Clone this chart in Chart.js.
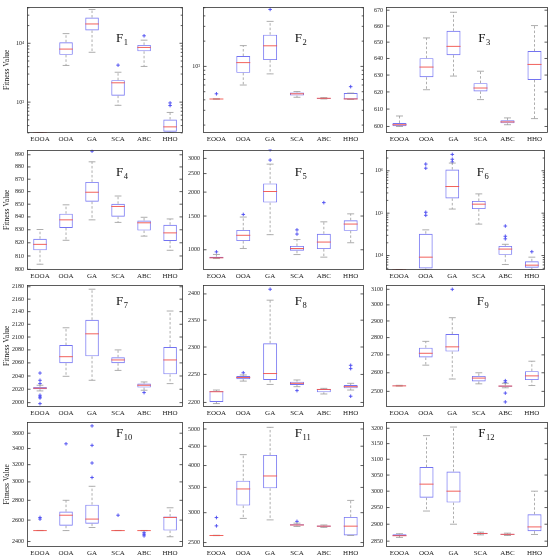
<!DOCTYPE html>
<html>
<head>
<meta charset="utf-8">
<script src="https://cdn.jsdelivr.net/npm/chart.js@4.4.1/dist/chart.umd.min.js"></script>
<style>
  body { margin: 0; background: #fff; }
  #wrap { position: relative; width: 550px; height: 558px; overflow: hidden; }
  #wrap canvas { position: absolute; }
</style>
</head>
<body>
<div id="wrap"></div>
<script>
const categories = ["EOOA", "OOA", "GA", "SCA", "ABC", "HHO"];

// each row: [min whisker, q1, median, q3, max whisker]
const f1Box = [[300, 300, 300, 300, 300], [4200, 6360, 7970, 10400, 14600], [7030, 16500, 21300, 27400, 37500],
  [883, 1290, 2130, 2360, 3220], [4040, 7300, 8500, 9380, 11300], [300, 314, 380, 507, 668]];
const f1Out = [[], [], [], [4250], [13400], [875, 970]];
const f1Range = [299, 42000];
const f1Ticks = [1000, 10000];

const f2Box = [[407, 408, 409, 410, 412], [600, 838, 1110, 1330, 1770], [815, 1190, 1760, 2390, 3440],
  [429, 449, 472, 490, 502], [410, 413, 417, 421, 425], [404, 404, 410, 481, 481]];
const f2Out = [[472], [], [4770], [], [], [574]];
const f2Range = [161, 5160];
const f2Ticks = [1000];

const f3Box = [[600, 600.2, 601, 602, 606], [621.3, 628.7, 634.8, 640.2, 652.6], [629.4, 642, 647.4, 657, 668.7],
  [615.5, 620.3, 622.3, 625.2, 632.3], [601, 601.8, 602.6, 603.5, 604.9], [604.5, 627.1, 636.4, 644.5, 660.3]];
const f3Out = [[], [], [], [], [], []];
const f3Range = [596.3, 672.3];
const f3Ticks = [600, 610, 620, 630, 640, 650, 660, 670];

const f4Box = [[803.8, 814.3, 818.8, 823.1, 830.2], [821.9, 831.4, 837.7, 842.5, 849.5], [837.7, 852, 859.5, 867.8, 884.2],
  [835.7, 840.2, 848.2, 850.3, 856.5], [825.1, 829.4, 835.4, 837.2, 839.7], [814.3, 821.4, 827.6, 833.9, 838.4]];
const f4Out = [[], [], [893], [], [], []];
const f4Range = [799.5, 894.3];
const f4Ticks = [800, 810, 820, 830, 840, 850, 860, 870, 880, 890];

const f5Box = [[900, 902, 908, 920, 945], [1015, 1110, 1190, 1270, 1482], [1199, 1763, 2015, 2220, 2800],
  [944, 988, 1015, 1047, 1131], [915, 1008, 1097, 1212, 1399], [1088, 1255, 1362, 1426, 1540]];
const f5Out = [[975], [1529], [2940, 3330], [1208, 1270], [1763], []];
const f5Range = [784, 3335];
const f5Ticks = [1000, 1500, 2000, 2500, 3000];

const f6Box = [[4580, 4580, 4580, 4580, 4580], [4570, 4970, 9160, 32700, 40400], [125000, 223000, 425000, 1070000, 1520000],
  [55200, 125000, 163000, 194000, 285000], [6140, 10400, 14200, 16900, 18400], [4570, 5150, 5930, 7310, 9160]];
const f6Out = [[], [89000, 105000, 1150000, 1440000], [1620000, 1870000, 2430000], [], [24800, 28500, 49700], [12300]];
const f6Range = [4560, 3160000];
const f6Ticks = [10000, 100000, 1000000];

const f7Box = [[2017.5, 2020, 2021.5, 2023.5, 2026], [2039.5, 2059.5, 2069.5, 2087.5, 2114.5], [2033.5, 2070, 2105, 2127, 2176],
  [2048.5, 2059.5, 2064.5, 2068.5, 2080], [2018.5, 2022.5, 2026, 2028.5, 2031], [2028.5, 2042.5, 2064.5, 2084.5, 2141]];
const f7Out = [[1998.5, 2007, 2008.5, 2011, 2028.5, 2033.5, 2044.5], [], [], [], [2015], []];
const f7Range = [1993.5, 2183.5];
const f7Ticks = [2000, 2020, 2040, 2060, 2080, 2100, 2120, 2140, 2160, 2180];

const f8Box = [[2198, 2201, 2219, 2220, 2222], [2238, 2241.5, 2244.5, 2247, 2249], [2232, 2240, 2251.6, 2306.8, 2388],
  [2228, 2231, 2234, 2237, 2240], [2215, 2218, 2223, 2224, 2225], [2222, 2225, 2228, 2231, 2234]];
const f8Out = [[], [2253], [2409], [2221], [], [2211, 2260.5, 2266.5]];
const f8Range = [2192, 2418];
const f8Ticks = [2200, 2250, 2300, 2350, 2400];

const f9Box = [[2528, 2528, 2529, 2531, 2532], [2642, 2685, 2709, 2741, 2778], [2566, 2719, 2746, 2821, 2920],
  [2540, 2553, 2571, 2583, 2600], [2519, 2524, 2528, 2531, 2543], [2531, 2560, 2583, 2609, 2664]];
const f9Out = [[], [], [3100], [], [2445, 2491, 2548, 2557], []];
const f9Range = [2419, 3131];
const f9Ticks = [2500, 2600, 2700, 2800, 2900, 3000, 3100];

const f10Box = [[2500, 2500, 2500, 2501, 2501], [2500, 2546, 2648, 2684, 2800], [2529, 2566, 2610, 2755, 2951],
  [2500, 2500, 2500, 2501, 2501], [2499, 2500, 2500, 2501, 2501], [2443, 2500, 2626, 2636, 2723]];
const f10Out = [[2610, 2626], [3460], [3050, 3220, 3440, 3700], [2648], [2451, 2466, 2480], []];
const f10Range = [2351, 3760];
const f10Ticks = [2400, 2600, 2800, 3000, 3200, 3400, 3600];

const f11Box = [[2608, 2609, 2610, 2612, 2613], [2897, 3133, 3467, 3647, 4275], [2871, 3480, 3753, 4267, 5050],
  [2758, 2773, 2783, 2794, 2814], [2742, 2753, 2763, 2773, 2783], [2610, 2611, 2763, 2923, 3233]];
const f11Out = [[2768, 2912], [], [], [2845], [], []];
const f11Range = [2433, 5230];
const f11Ticks = [2500, 3000, 3500, 4000, 4500, 5000];

const f12Box = [[2861, 2865, 2866, 2870, 2872], [2939.5, 2980, 3021.7, 3075, 3176], [2900, 2965, 3000, 3061, 3204],
  [2868.6, 2870.6, 2872.5, 2874.5, 2876.5], [2866.7, 2868.6, 2870, 2871.6, 2873.5], [2869.6, 2879.4, 2892, 2929.8, 3000]];
const f12Out = [[], [], [], [], [], []];
const f12Range = [2833, 3222];
const f12Ticks = [2850, 2900, 2950, 3000, 3050, 3100, 3150, 3200];

const panels = [
  { fn: 1, box: f1Box, out: f1Out, range: f1Range, ticks: f1Ticks, pow: true },
  { fn: 2, box: f2Box, out: f2Out, range: f2Range, ticks: f2Ticks, pow: true },
  { fn: 3, box: f3Box, out: f3Out, range: f3Range, ticks: f3Ticks },
  { fn: 4, box: f4Box, out: f4Out, range: f4Range, ticks: f4Ticks },
  { fn: 5, box: f5Box, out: f5Out, range: f5Range, ticks: f5Ticks },
  { fn: 6, box: f6Box, out: f6Out, range: f6Range, ticks: f6Ticks, pow: true },
  { fn: 7, box: f7Box, out: f7Out, range: f7Range, ticks: f7Ticks },
  { fn: 8, box: f8Box, out: f8Out, range: f8Range, ticks: f8Ticks },
  { fn: 9, box: f9Box, out: f9Out, range: f9Range, ticks: f9Ticks },
  { fn: 10, box: f10Box, out: f10Out, range: f10Range, ticks: f10Ticks },
  { fn: 11, box: f11Box, out: f11Out, range: f11Range, ticks: f11Ticks },
  { fn: 12, box: f12Box, out: f12Out, range: f12Range, ticks: f12Ticks },
];

// layout of the 4x3 grid (plot areas)
const colL = [27, 203, 386];
const colR = [186, 367, 548];
const rowT = [2, 145, 280, 417];
const rowB = [133, 270, 407, 547];
const titleDy = [32, 23, 17, 12];

const SERIF = "'Liberation Serif', 'DejaVu Serif', serif";
const SUP = { 0: "⁰", 1: "¹", 2: "²", 3: "³", 4: "⁴", 5: "⁵", 6: "⁶", 7: "⁷", 8: "⁸", 9: "⁹" };

function buildTicks(p) {
  if (!p.pow) return p.ticks.map((v) => ({ value: v, major: true }));
  let list = [];
  let k0 = Math.floor(Math.log10(p.range[0]));
  let k1 = Math.ceil(Math.log10(p.range[1]));
  for (let k = k0; k <= k1; k++) {
    for (let m = 1; m <= 9; m++) {
      let v = m * Math.pow(10, k);
      if (v >= p.range[0] && v <= p.range[1]) list.push({ value: v, major: m === 1 });
    }
  }
  return list;
}

function tickLabel(p, value) {
  if (!p.pow) return String(value);
  let e = Math.log10(value);
  if (Math.abs(e - Math.round(e)) > 1e-9) return "";
  return "10" + String(Math.round(e)).split("").map((d) => SUP[d]).join("");
}

// whiskers, medians, frame, inward ticks and panel title
const boxPlugin = {
  id: "boxplot",
  afterDatasetsDraw(chart, args, opts) {
    const { ctx, chartArea: a, scales } = chart;
    const x = scales.x, y = scales.y;
    const meta = chart.getDatasetMeta(0);
    ctx.save();
    ctx.beginPath();
    ctx.rect(a.left, a.top, a.right - a.left, a.bottom - a.top);
    ctx.clip();
    opts.box.forEach((s, i) => {
      const cx = x.getPixelForValue(i);
      const hw = meta.data[i].width / 2;
      const [mn, q1, md, q3, mx] = s.map((v) => y.getPixelForValue(v));
      ctx.strokeStyle = "#999";
      ctx.lineWidth = 0.8;
      ctx.setLineDash([2.5, 2]);
      ctx.beginPath();
      ctx.moveTo(cx, q3); ctx.lineTo(cx, mx);
      ctx.moveTo(cx, q1); ctx.lineTo(cx, mn);
      ctx.stroke();
      ctx.setLineDash([]);
      ctx.beginPath();
      ctx.moveTo(cx - hw / 2, mx); ctx.lineTo(cx + hw / 2, mx);
      ctx.moveTo(cx - hw / 2, mn); ctx.lineTo(cx + hw / 2, mn);
      ctx.stroke();
      ctx.strokeStyle = "#f0504a";
      ctx.lineWidth = 0.9;
      ctx.beginPath();
      ctx.moveTo(cx - hw, md); ctx.lineTo(cx + hw, md);
      ctx.stroke();
    });
    ctx.restore();
  },
  afterDraw(chart, args, opts) {
    const { ctx, chartArea: a, scales } = chart;
    const y = scales.y;
    const l = Math.round(a.left) + 0.5, t = Math.round(a.top) + 0.5;
    const r = Math.round(a.right) - 0.5, b = Math.round(a.bottom) - 0.5;
    ctx.save();
    ctx.strokeStyle = "#333";
    ctx.lineWidth = 0.8;
    ctx.strokeRect(l, t, r - l, b - t);
    ctx.beginPath();
    y.ticks.forEach((tk) => {
      const py = y.getPixelForValue(tk.value);
      const len = tk.major ? 3 : 1.8;
      ctx.moveTo(l, py); ctx.lineTo(l + len, py);
      ctx.moveTo(r, py); ctx.lineTo(r - len, py);
    });
    ctx.stroke();
    // title F with subscript
    const tx = a.left + 0.57 * (a.right - a.left);
    const ty = a.top + opts.titleDy;
    ctx.fillStyle = "#111";
    ctx.textBaseline = "middle";
    ctx.textAlign = "left";
    ctx.font = "13px " + SERIF;
    ctx.fillText("F", tx, ty);
    const w = ctx.measureText("F").width;
    ctx.font = "8.5px " + SERIF;
    ctx.fillText(String(opts.fn), tx + w + 0.5, ty + 4);
    ctx.restore();
  },
};

const wrap = document.getElementById("wrap");

panels.forEach((p, idx) => {
  const row = Math.floor(idx / 3), col = idx % 3;
  const axisW = col === 0 ? 27 : 20;
  const left = colL[col] - axisW;
  const top = rowT[row] - 2;
  const width = colR[col] - left + 2;
  const height = rowB[row] - top + 10;

  const canvas = document.createElement("canvas");
  canvas.width = width;
  canvas.height = height;
  canvas.style.left = left + "px";
  canvas.style.top = top + "px";
  wrap.appendChild(canvas);

  const outliers = [];
  p.out.forEach((list, i) => list.forEach((v) => outliers.push({ x: categories[i], y: v })));

  new Chart(canvas, {
    type: "bar",
    data: {
      labels: categories,
      datasets: [
        {
          data: p.box.map((s) => [s[1], s[3]]),
          backgroundColor: "rgba(0,0,0,0)",
          borderColor: "#7373f2",
          borderWidth: 0.9,
          borderSkipped: false,
          barPercentage: 0.52,
          categoryPercentage: 1,
        },
        {
          type: "line",
          data: outliers,
          showLine: false,
          pointStyle: "cross",
          pointRadius: 1.8,
          pointBorderWidth: 0.9,
          borderColor: "#4a4af0",
          backgroundColor: "#4a4af0",
        },
      ],
    },
    options: {
      responsive: false,
      animation: false,
      layout: { padding: { top: 2, right: 2, left: 0, bottom: 0 } },
      plugins: {
        legend: { display: false },
        tooltip: { enabled: false },
        boxplot: { box: p.box, fn: p.fn, titleDy: titleDy[row] },
      },
      scales: {
        x: {
          grid: { display: false, drawTicks: false },
          border: { display: false },
          ticks: { font: { family: SERIF, size: 7 }, color: "#222", padding: 1.5, maxRotation: 0, autoSkip: false },
          afterFit: (scale) => { scale.height = 10; },
        },
        y: {
          type: "logarithmic",
          min: p.range[0],
          max: p.range[1],
          grid: { display: false, drawTicks: false },
          border: { display: false },
          title: {
            display: col === 0,
            text: "Fitness Value",
            font: { family: SERIF, size: 7.5 },
            color: "#222",
            padding: { top: 3, bottom: 0 },
          },
          ticks: {
            font: { family: SERIF, size: 6 },
            color: "#222",
            padding: 3,
            autoSkip: false,
            callback: (value) => tickLabel(p, value),
          },
          afterBuildTicks: (scale) => { scale.ticks = buildTicks(p); },
          afterFit: (scale) => { scale.width = axisW; },
        },
      },
    },
    plugins: [boxPlugin],
  });
});
</script>
</body>
</html>
